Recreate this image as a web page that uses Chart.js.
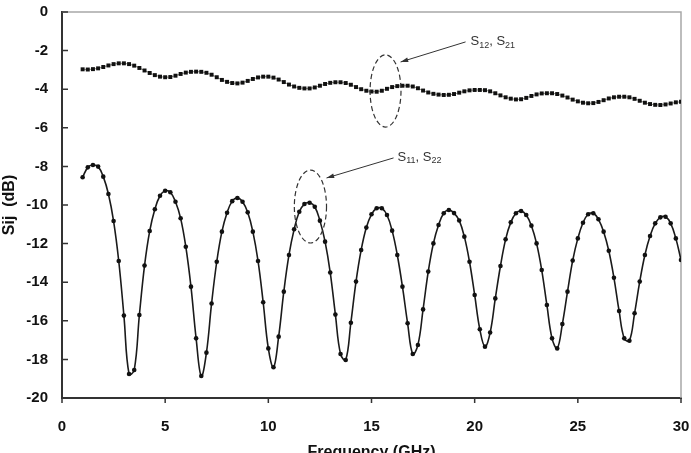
<!DOCTYPE html>
<html>
<head>
<meta charset="utf-8">
<script src="https://cdn.jsdelivr.net/npm/chart.js@4.4.0/dist/chart.umd.min.js"></script>
<style>
  html, body { margin: 0; padding: 0; background: #fff; overflow: hidden; }
  #wrap { position: relative; width: 691px; height: 462px; }
</style>
</head>
<body>
<div id="wrap"><canvas id="chart"></canvas></div>
<script>
// frequency points (GHz)
const freq = [
  1, 1.25, 1.5, 1.75, 2, 2.25, 2.5, 2.75, 3, 3.25, 3.5, 3.75,
  4, 4.25, 4.5, 4.75, 5, 5.25, 5.5, 5.75, 6, 6.25, 6.5, 6.75,
  7, 7.25, 7.5, 7.75, 8, 8.25, 8.5, 8.75, 9, 9.25, 9.5, 9.75,
  10, 10.25, 10.5, 10.75, 11, 11.25, 11.5, 11.75, 12, 12.25, 12.5, 12.75,
  13, 13.25, 13.5, 13.75, 14, 14.25, 14.5, 14.75, 15, 15.25, 15.5, 15.75,
  16, 16.25, 16.5, 16.75, 17, 17.25, 17.5, 17.75, 18, 18.25, 18.5, 18.75,
  19, 19.25, 19.5, 19.75, 20, 20.25, 20.5, 20.75, 21, 21.25, 21.5, 21.75,
  22, 22.25, 22.5, 22.75, 23, 23.25, 23.5, 23.75, 24, 24.25, 24.5, 24.75,
  25, 25.25, 25.5, 25.75, 26, 26.25, 26.5, 26.75, 27, 27.25, 27.5, 27.75,
  28, 28.25, 28.5, 28.75, 29, 29.25, 29.5, 29.75, 30
];

// S12 / S21 (dB)
const s12 = [
  -2.97, -2.98, -2.96, -2.92, -2.85, -2.77, -2.70, -2.66, -2.66, -2.70, -2.78, -2.90,
  -3.03, -3.16, -3.27, -3.35, -3.38, -3.37, -3.30, -3.21, -3.14, -3.10, -3.09, -3.10,
  -3.15, -3.25, -3.38, -3.52, -3.62, -3.68, -3.70, -3.66, -3.57, -3.47, -3.39, -3.35,
  -3.35, -3.40, -3.50, -3.63, -3.76, -3.86, -3.93, -3.96, -3.96, -3.91, -3.82, -3.73,
  -3.67, -3.64, -3.64, -3.68, -3.77, -3.89, -4.00, -4.08, -4.12, -4.13, -4.08, -3.98,
  -3.89, -3.84, -3.82, -3.82, -3.86, -3.95, -4.07, -4.17, -4.24, -4.28, -4.30, -4.29,
  -4.25, -4.18, -4.11, -4.06, -4.04, -4.04, -4.05, -4.11, -4.21, -4.32, -4.42, -4.49,
  -4.53, -4.52, -4.45, -4.35, -4.27, -4.22, -4.21, -4.21, -4.25, -4.33, -4.43, -4.54,
  -4.63, -4.70, -4.73, -4.72, -4.66, -4.57, -4.48, -4.42, -4.39, -4.39, -4.42, -4.50,
  -4.60, -4.70, -4.77, -4.81, -4.82, -4.79, -4.74, -4.68, -4.65
];

// S11 / S22 (dB)
const s11 = [
  -8.56, -8.05, -7.93, -8.01, -8.53, -9.43, -10.83, -12.9, -15.73, -18.76, -18.55, -15.7,
  -13.14, -11.35, -10.22, -9.52, -9.26, -9.34, -9.83, -10.69, -12.16, -14.23, -16.91, -18.86,
  -17.65, -15.1, -12.94, -11.38, -10.4, -9.8, -9.64, -9.83, -10.38, -11.38, -12.9, -15.04,
  -17.43, -18.41, -16.82, -14.49, -12.59, -11.26, -10.35, -9.95, -9.88, -10.09, -10.81, -11.9,
  -13.5, -15.68, -17.72, -18.03, -16.1, -13.97, -12.33, -11.17, -10.48, -10.17, -10.17, -10.52,
  -11.33, -12.59, -14.23, -16.13, -17.72, -17.25, -15.41, -13.45, -11.99, -11.04, -10.43, -10.26,
  -10.42, -10.8, -11.64, -12.94, -14.66, -16.44, -17.34, -16.61, -14.84, -13.16, -11.78, -10.9,
  -10.43, -10.31, -10.52, -11.07, -11.99, -13.37, -15.18, -16.91, -17.43, -16.17, -14.49, -12.88,
  -11.73, -10.92, -10.48, -10.43, -10.74, -11.38, -12.37, -13.77, -15.49, -16.91, -17.03, -15.61,
  -13.97, -12.59, -11.61, -10.95, -10.64, -10.61, -10.95, -11.73, -12.85
];

const xTicks = [0, 5, 10, 15, 20, 25, 30];
const yTicks = [0, -2, -4, -6, -8, -10, -12, -14, -16, -18, -20];

// annotation ellipses / arrows in data units
const notes = [
  { ell: [15.68, -4.09, 0.75, 1.87], from: [19.56, -1.55], to: [16.41, -2.59], at: [19.8, -1.55], a: '12', b: '21' },
  { ell: [12.04, -10.08, 0.78, 1.89], from: [16.07, -7.56], to: [12.82, -8.6], at: [16.26, -7.51], a: '11', b: '22' }
];

const pts = (ys) => freq.map((f, i) => ({ x: f, y: ys[i] }));

const decor = {
  id: 'decor',
  beforeDatasetsDraw(chart) {
    const { ctx, chartArea: a } = chart;
    ctx.save();
    ctx.strokeStyle = '#a8a8a8';
    ctx.lineWidth = 1.5;
    ctx.beginPath();
    ctx.moveTo(a.left, a.top);
    ctx.lineTo(a.right, a.top);
    ctx.lineTo(a.right, a.bottom);
    ctx.stroke();
    ctx.restore();
  },
  afterDraw(chart) {
    const { ctx, scales: { x, y } } = chart;
    ctx.save();
    // tick marks: y inward, x outward
    ctx.strokeStyle = '#333';
    ctx.lineWidth = 1.5;
    ctx.beginPath();
    yTicks.forEach(v => {
      const py = y.getPixelForValue(v);
      ctx.moveTo(x.left, py);
      ctx.lineTo(x.left + 6, py);
    });
    xTicks.forEach(v => {
      const px = x.getPixelForValue(v);
      ctx.moveTo(px, y.bottom);
      ctx.lineTo(px, y.bottom + 5);
    });
    ctx.stroke();

    notes.forEach(n => {
      const [cx, cy, rx, ry] = n.ell;
      const px = x.getPixelForValue(cx), py = y.getPixelForValue(cy);
      const rpx = Math.abs(x.getPixelForValue(cx + rx) - px);
      const rpy = Math.abs(y.getPixelForValue(cy - ry) - py);
      ctx.strokeStyle = '#333';
      ctx.lineWidth = 1.2;
      ctx.setLineDash([5, 3]);
      ctx.beginPath();
      ctx.ellipse(px, py, rpx, rpy, 0, 0, Math.PI * 2);
      ctx.stroke();
      ctx.setLineDash([]);

      // arrow
      const x0 = x.getPixelForValue(n.from[0]), y0 = y.getPixelForValue(n.from[1]);
      const x1 = x.getPixelForValue(n.to[0]), y1 = y.getPixelForValue(n.to[1]);
      const ang = Math.atan2(y1 - y0, x1 - x0);
      ctx.lineWidth = 1;
      ctx.beginPath();
      ctx.moveTo(x0, y0);
      ctx.lineTo(x1, y1);
      ctx.stroke();
      ctx.fillStyle = '#333';
      ctx.beginPath();
      ctx.moveTo(x1, y1);
      ctx.lineTo(x1 - 8 * Math.cos(ang - 0.3), y1 - 8 * Math.sin(ang - 0.3));
      ctx.lineTo(x1 - 8 * Math.cos(ang + 0.3), y1 - 8 * Math.sin(ang + 0.3));
      ctx.closePath();
      ctx.fill();

      // label S_a, S_b
      let tx = x.getPixelForValue(n.at[0]);
      const ty = y.getPixelForValue(n.at[1]);
      ctx.fillStyle = '#333';
      ctx.textBaseline = 'middle';
      const big = '13px Arial, "Liberation Sans", sans-serif';
      const small = '9px Arial, "Liberation Sans", sans-serif';
      const parts = [['S', big, 0], [n.a, small, 4], [', S', big, 0], [n.b, small, 4]];
      parts.forEach(([t, f, dy]) => {
        ctx.font = f;
        ctx.fillText(t, tx, ty + dy);
        tx += ctx.measureText(t).width;
      });
    });
    ctx.restore();
  }
};

const tickFont = { family: 'Arial, "Liberation Sans", sans-serif', size: 15, weight: 'bold' };
const titleFont = { family: 'Arial, "Liberation Sans", sans-serif', size: 16, weight: 'bold' };

new Chart(document.getElementById('chart'), {
  type: 'line',
  data: {
    datasets: [
      {
        label: 'S12, S21',
        data: pts(s12),
        borderColor: '#8a8a80',
        borderWidth: 1,
        pointStyle: 'rect',
        pointRadius: 2.8,
        pointBackgroundColor: '#111',
        pointBorderColor: '#111',
        pointBorderWidth: 0,
        tension: 0
      },
      {
        label: 'S11, S22',
        data: pts(s11),
        borderColor: '#1a1a1a',
        borderWidth: 1.6,
        pointStyle: 'circle',
        pointRadius: 2.3,
        pointBackgroundColor: '#111',
        pointBorderColor: '#111',
        pointBorderWidth: 0,
        tension: 0.4
      }
    ]
  },
  options: {
    responsive: true,
    maintainAspectRatio: false,
    devicePixelRatio: 1,
    animation: false,
    layout: { padding: { left: 0, right: 10, top: 12, bottom: 0 } },
    plugins: { legend: { display: false }, tooltip: { enabled: false } },
    scales: {
      x: {
        type: 'linear',
        min: 0, max: 30,
        afterBuildTicks: s => { s.ticks = xTicks.map(v => ({ value: v })); },
        afterFit: s => { s.height = 64; },
        grid: { display: false, tickLength: 20 },
        border: { display: true, color: '#333', width: 2 },
        ticks: { color: '#111', font: tickFont, padding: 0, maxRotation: 0 },
        title: { display: true, text: 'Frequency (GHz)', color: '#111', font: titleFont, padding: { top: 0, bottom: 0 } }
      },
      y: {
        min: -20, max: 0,
        afterBuildTicks: s => { s.ticks = yTicks.map(v => ({ value: v })); },
        afterFit: s => { s.width = 62; },
        grid: { display: false, tickLength: 14 },
        border: { display: true, color: '#333', width: 2 },
        ticks: { color: '#111', font: tickFont, padding: 0 },
        title: { display: true, text: 'Sij  (dB)', color: '#111', font: titleFont, padding: { top: 0, bottom: 0 } }
      }
    }
  },
  plugins: [decor]
});
</script>
</body>
</html>
